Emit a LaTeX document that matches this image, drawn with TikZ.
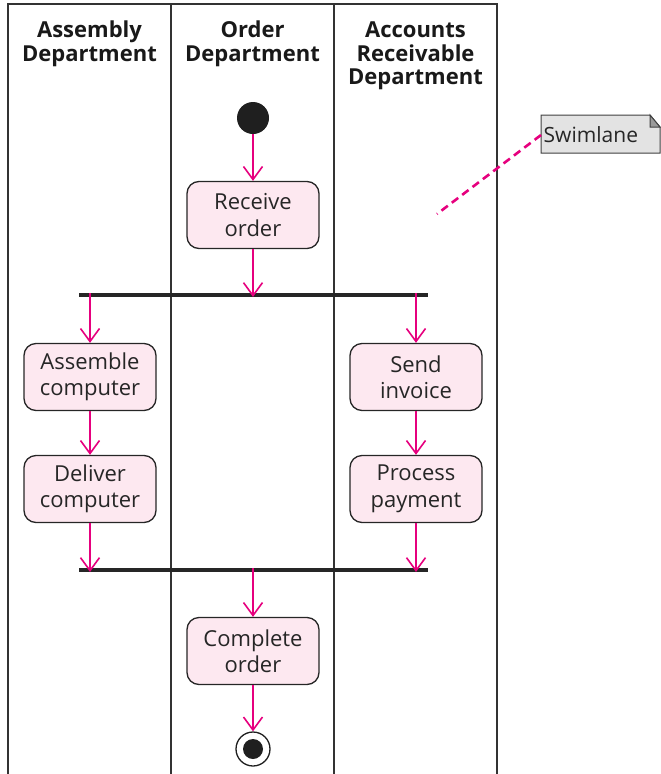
\documentclass[tikz,border=0pt]{standalone}
\usepackage{fontspec}
\setmainfont{Open Sans}
\usetikzlibrary{arrows.meta}
\definecolor{mag}{HTML}{E6007E}
\definecolor{pinkfill}{HTML}{FDE8F0}
\definecolor{lanecol}{HTML}{333333}
\definecolor{notefill}{HTML}{E3E3E3}
\definecolor{foldfill}{HTML}{9A9A9A}
\tikzset{
  lane/.style={draw=lanecol, line width=1.2pt},
  act/.style={draw=black!85, line width=1.3pt, fill=pinkfill, rounded corners=12pt,
    minimum width=132pt, minimum height=67pt, align=center,
    font=\fontsize{22}{26.5}\selectfont, text=black!85},
  head/.style={align=center, font=\bfseries\fontsize{22}{23.5}\selectfont, text=black!90},
  bar/.style={draw=black!85, line width=4pt},
  flow/.style={draw=mag, line width=1.8pt, -{Straight Barb[length=13pt,width=19pt,line width=1.6pt]}},
}
\begin{document}
\begin{tikzpicture}[x=1pt,y=-1pt]
\useasboundingbox (0,0) rectangle (661,774);
% lanes
\draw[lane] (8,774) -- (8,4) -- (497,4) -- (497,774);
\draw[lane] (171,4) -- (171,774);
\draw[lane] (334,4) -- (334,774);
% headers
\node[head] (h1) at (89.5,44) {Assembly\\Department};
\node[head] (h2) at (252.5,44) {Order\\Department};
\node[head] (h3) at (415.5,56) {Accounts\\Receivable\\Department};
% start
\node[circle, fill=black!88, minimum size=32pt, inner sep=0pt] (start) at (253,118) {};
% activities
\node[act] (recv) at (253,215) {Receive\\order};
\node[act] (asm) at (90,377) {Assemble\\computer};
\node[act] (del) at (90,489) {Deliver\\computer};
\node[act] (inv) at (416,377) {Send\\invoice};
\node[act] (pay) at (416,489) {Process\\payment};
\node[act] (comp) at (253,651) {Complete\\order};
% end
\node[circle, draw=black!88, line width=1.3pt, minimum size=34pt, inner sep=0pt] (endc) at (253,749) {};
\node[circle, fill=black!88, minimum size=20pt, inner sep=0pt] at (endc) {};
% bars
\coordinate (f1l) at (79,295); \coordinate (f1r) at (428,295);
\coordinate (f2l) at (79,570); \coordinate (f2r) at (428,570);
\draw[bar] (f1l) -- (f1r);
\draw[bar] (f2l) -- (f2r);
\coordinate (f1a) at (253,295); \coordinate (f1b) at (90,295); \coordinate (f1c) at (416,295);
\coordinate (f2a) at (90,570); \coordinate (f2b) at (416,570); \coordinate (f2c) at (253,570);
% flows
\draw[flow] (start) -- (recv);
\draw[flow] (recv) -- ([yshift=-2pt]f1a);
\draw[flow] ([yshift=2pt]f1b) -- (asm);
\draw[flow] ([yshift=2pt]f1c) -- (inv);
\draw[flow] (asm) -- (del);
\draw[flow] (inv) -- (pay);
\draw[flow] (del) -- ([yshift=-2pt]f2a);
\draw[flow] (pay) -- ([yshift=-2pt]f2b);
\draw[flow] ([yshift=2pt]f2c) -- (comp);
\draw[flow] (comp) -- (endc);
% note
\draw[draw=black!75, line width=1pt, fill=notefill] (541,115) -- (650,115) -- (660,127) -- (660,153) -- (541,153) -- cycle;
\draw[draw=black!75, line width=1pt, fill=foldfill] (650,115) -- (650,127) -- (660,127) -- cycle;
\node[font=\fontsize{21}{26}\selectfont, text=black!85, anchor=base west, inner sep=0pt] (note) at (543.5,142) {Swimlane};
\coordinate (nl) at (541,135);
\coordinate (ne) at (437,214);
\draw[draw=mag, line width=2.6pt, dash pattern=on 8pt off 5pt] (nl) -- (ne);
\end{tikzpicture}
\end{document}
